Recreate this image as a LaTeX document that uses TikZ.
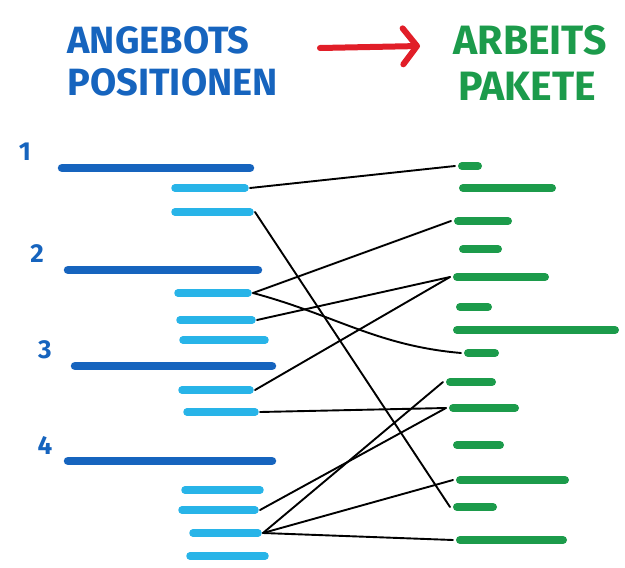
\documentclass[tikz,border=0pt]{standalone}
\usepackage{fontspec}
\setmainfont{Fira Sans}
\usetikzlibrary{arrows.meta}

\definecolor{posblue}{RGB}{22,100,190}
\definecolor{subblue}{RGB}{40,180,232}
\definecolor{pkggreen}{RGB}{28,155,75}
\definecolor{arrowred}{RGB}{225,30,40}

\tikzset{
  title/.style={anchor=west, font=\fontsize{38}{40}\selectfont\bfseries},
  num/.style={text=posblue, font=\fontsize{26}{28}\selectfont\bfseries},
  posbar/.style={draw=posblue, line width=8.5, line cap=round},
  subbar/.style={draw=subblue, line width=7.5, line cap=round},
  pkgbar/.style={draw=pkggreen, line width=8, line cap=round},
  link/.style={draw=black, line width=1.9, line cap=round}
}

\begin{document}
\begin{tikzpicture}[x=1pt,y=-1pt]
\useasboundingbox (0,0) rectangle (625,568);

% titles
\node[title, text=posblue] (angebote) at (64,40) {ANGEBOTS};
\node[title, text=posblue] (positionen) at (64,82) {POSITIONEN};
\node[title, text=pkggreen, font=\fontsize{41}{43}\selectfont\bfseries] (arbeit) at (450,40) {ARBEITS};
\node[title, text=pkggreen, font=\fontsize{41}{43}\selectfont\bfseries] (pakete) at (455,86) {PAKETE};

\coordinate (a1) at (320,48);
\coordinate (a2) at (420,46);
\draw[draw=arrowred, line width=6, line cap=round,
      -{Straight Barb[length=14pt,width=36pt,line width=6pt,round]}] (a1) -- (a2);

% Angebotspositionen
\foreach \n/\xa/\xb/\y/\lx in {1/62/250/168/25, 2/68/258/270/37, 3/75/272/366/45, 4/68/272/461/45}
{
    \node[num] (n\n) at (\lx,\y-16) {\n};
    \draw[posbar] (\xa,\y) -- (\xb,\y);
}

\foreach \name/\xa/\xb/\y in {b11/175/245/188, b12/175/250/212,
    b21/178/248/293, b22/180/252/320, b23/183/265/340,
    b31/182/250/390, b32/187/255/412,
    b41/185/260/490, b42/182/255/510, b43/193/258/533, b44/190/265/556}
{
    \draw[subbar] (\xa,\y) -- (\xb,\y);
    \coordinate (\name) at (\xb+5,\y);
}

% Arbeitspakete
\foreach \name/\xa/\xb/\y in {g1/462/478/166, g2/463/552/188, g3/458/508/221,
    g4/463/498/249, g5/457/545/277, g6/460/488/307, g7/457/615/330,
    g8/468/495/353, g9/450/492/382, g10/453/515/408, g11/457/500/445,
    g12/460/565/480, g13/457/493/507, g14/460/563/540}
{
    \draw[pkgbar] (\xa,\y) -- (\xb,\y);
    \coordinate (\name) at (\xa-7,\y);
}

\draw[link] (b11) -- (g1);
\draw[link] (b12) -- (g13);
\draw[link] (b21) -- (g3);
\draw[link] (b21) to[out=-15,in=175] (g8);
\draw[link] (b22) -- (g5);
\draw[link] (b31) -- (g5);
\draw[link] (b32) -- (g10);
\draw[link] (b42) -- (g10);
\draw[link] (b43) -- (g9);
\draw[link] (b43) -- (g12);
\draw[link] (b43) -- (g14);

\end{tikzpicture}
\end{document}
